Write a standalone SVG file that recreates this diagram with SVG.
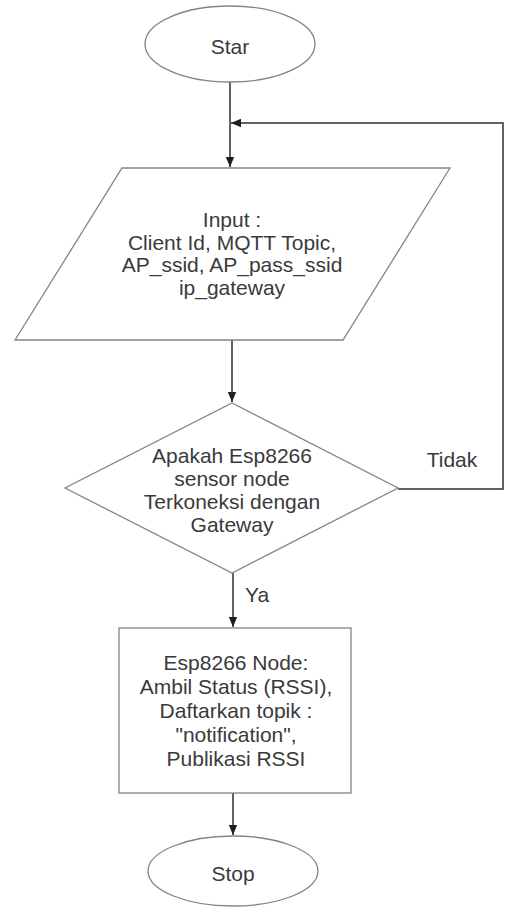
<svg xmlns="http://www.w3.org/2000/svg" width="506" height="908" viewBox="0 0 506 908">
<style>
.shape{fill:#ffffff;stroke:#7d8590;stroke-width:1.3}
.line{fill:none;stroke:#2e2e2e;stroke-width:1.5}
text{font-family:"Liberation Sans",Arial,sans-serif;font-size:21px;fill:#3a3a3a;text-anchor:middle}
</style>
<defs>
<marker id="arr" viewBox="0 0 10 10" refX="10" refY="5" markerWidth="10" markerHeight="10" markerUnits="userSpaceOnUse" orient="auto">
<path d="M0,0.8 L10,5 L0,9.2 Z" fill="#1e1e1e"/>
</marker>
</defs>
<rect width="506" height="908" fill="#ffffff"/>
<g id="connectors">
<line class="line" x1="230" y1="82" x2="230" y2="167" marker-end="url(#arr)"/>
<polyline class="line" points="398,489 503,489 503,123 231,123" marker-end="url(#arr)"/>
<line class="line" x1="232" y1="340" x2="232" y2="402" marker-end="url(#arr)"/>
<line class="line" x1="233" y1="573" x2="233" y2="627" marker-end="url(#arr)"/>
<line class="line" x1="233" y1="793" x2="233" y2="835" marker-end="url(#arr)"/>
<text x="452" y="467">Tidak</text>
<text x="245" y="602" style="text-anchor:start">Ya</text>
</g>
<g id="start">
<ellipse class="shape" cx="230" cy="44" rx="85" ry="38"/>
<text x="230" y="54">Star</text>
</g>
<g id="input">
<polygon class="shape" points="122,168 450,168 343,340 15,340"/>
<text x="232" y="227">Input :</text>
<text x="232" y="250">Client Id, MQTT Topic,</text>
<text x="232" y="272">AP_ssid, AP_pass_ssid</text>
<text x="232" y="295">ip_gateway</text>
</g>
<g id="decision">
<polygon class="shape" points="232,403 398,488 232,573 65,488"/>
<text x="232" y="463">Apakah Esp8266</text>
<text x="232" y="486">sensor node</text>
<text x="232" y="509">Terkoneksi dengan</text>
<text x="232" y="532">Gateway</text>
</g>
<g id="process">
<rect class="shape" x="119" y="628" width="232" height="165"/>
<text x="236" y="670">Esp8266 Node:</text>
<text x="236" y="694">Ambil Status (RSSI),</text>
<text x="236" y="718">Daftarkan topik :</text>
<text x="236" y="742">"notification",</text>
<text x="236" y="766">Publikasi RSSI</text>
</g>
<g id="stop">
<ellipse class="shape" cx="233" cy="871" rx="85" ry="35"/>
<text x="233" y="881">Stop</text>
</g>
</svg>
